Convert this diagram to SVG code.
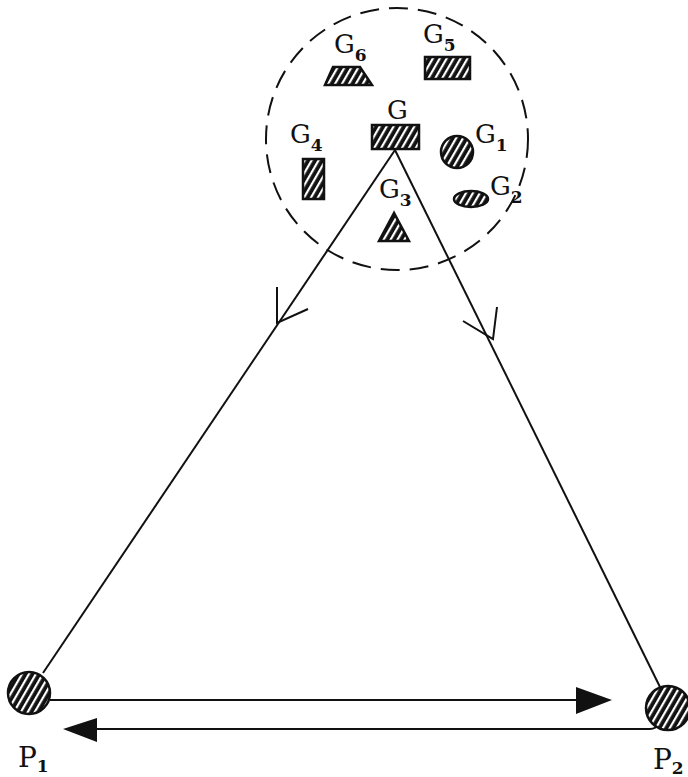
<svg xmlns="http://www.w3.org/2000/svg" width="688" height="777" viewBox="0 0 688 777">
<style>
.lbl{font-family:"DejaVu Serif","Liberation Serif",serif;font-size:26px;fill:#111}
.sub{font-size:17px;font-weight:bold}
.plbl{font-family:"DejaVu Serif","Liberation Serif",serif;font-size:28px;fill:#111}
.hat{fill:url(#hatch);stroke:#111;stroke-width:2.5}
.ln{stroke:#111;stroke-width:2;fill:none}
</style>
<defs>
<pattern id="hatch" patternUnits="userSpaceOnUse" width="6" height="6" patternTransform="rotate(30)">
<rect width="6" height="6" fill="#111"/>
<rect x="1" width="2.2" height="6" fill="#fff"/>
</pattern>
</defs>
<rect width="688" height="777" fill="#fff"/>
<g id="region">
<circle cx="397" cy="139" r="131" fill="none" stroke="#111" stroke-width="2" stroke-dasharray="19 10"/>
</g>
<g id="connectors">
<line class="ln" x1="395" y1="150" x2="43" y2="673"/>
<line class="ln" x1="395" y1="150" x2="660" y2="687"/>
<polyline class="ln" points="277,287 277,323 308,309" stroke-width="2.5"/>
<polyline class="ln" points="497,307 493,339 463,321" stroke-width="2.5"/>
<line class="ln" x1="50" y1="700" x2="578" y2="700"/>
<polygon points="612,700 576,687 576,714" fill="#111"/>
<path class="ln" d="M95 729 H650 Q656 729 658 724"/>
<polygon points="63,729 97,718 97,742" fill="#111"/>
</g>
<g id="G">
<rect class="hat" x="372" y="125" width="47" height="24"/>
<text class="lbl" x="387" y="119">G</text>
</g>
<g id="G6">
<polygon class="hat" points="325,85 372,85 360,67 333,67"/>
<text class="lbl" x="334" y="53">G<tspan class="sub" dy="8">6</tspan></text>
</g>
<g id="G5">
<rect class="hat" x="425" y="57" width="45" height="22"/>
<text class="lbl" x="423" y="43">G<tspan class="sub" dy="8">5</tspan></text>
</g>
<g id="G4">
<rect class="hat" x="303" y="159" width="21" height="40"/>
<text class="lbl" x="290" y="143">G<tspan class="sub" dy="8">4</tspan></text>
</g>
<g id="G1">
<circle class="hat" cx="457" cy="152" r="16"/>
<text class="lbl" x="475" y="143">G<tspan class="sub" dy="8">1</tspan></text>
</g>
<g id="G2">
<ellipse class="hat" cx="471" cy="199" rx="17" ry="8"/>
<text class="lbl" x="490" y="195">G<tspan class="sub" dy="8">2</tspan></text>
</g>
<g id="G3">
<polygon class="hat" points="394,213 379,241 409,241"/>
<text class="lbl" x="379" y="198">G<tspan class="sub" dy="8">3</tspan></text>
</g>
<g id="P1">
<circle class="hat" cx="29" cy="693" r="21"/>
<text class="plbl" x="18" y="767">P<tspan class="sub" dy="5">1</tspan></text>
</g>
<g id="P2">
<circle class="hat" cx="668" cy="708" r="22"/>
<text class="plbl" x="653" y="769">P<tspan class="sub" dy="5">2</tspan></text>
</g>
</svg>
